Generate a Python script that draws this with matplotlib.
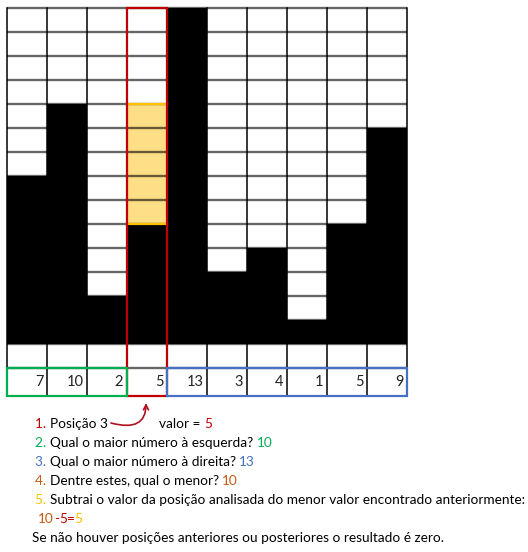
import matplotlib
matplotlib.use("Agg")
import matplotlib.pyplot as plt
from matplotlib.patches import Rectangle

# ---- data ----
values = [7, 10, 2, 5, 13, 3, 4, 1, 5, 9]          # labels in the bottom row
drawn_rows = [7, 10, 2, 5, 14, 3, 4, 1, 5, 9]      # black cells as drawn in the picture
n_rows = 14
focus = 3          # analysed position
water_top = 10     # min(max left, max right)

RED = "#C00000"
GREEN = "#00B050"
BLUE = "#4472C4"
ORANGE = "#C55A11"
YELLOW = "#FFC000"
FONT = "Lato"

W, H = 528, 552
fig = plt.figure(figsize=(W / 100, H / 100), dpi=100)
fig.patch.set_facecolor("white")

# grid axes (pixel placement)
gl, gr, gt, gb = 6.5, 406.5, 8, 396
ax = fig.add_axes([gl / W, 1 - gb / H, (gr - gl) / W, (gb - gt) / H])
ybot = -(gb - 344) / 24.0
ax.set_xlim(0, len(values))
ax.set_ylim(ybot, n_rows)
ax.axis("off")

ncol = len(values)
# grid lines
for y in range(-1, n_rows + 1):
    ax.plot([0, ncol], [y, y], color="black", alpha=0.6, lw=1.7, zorder=2.5,
            solid_capstyle="butt", clip_on=False)
ax.plot([0, ncol], [ybot, ybot], color="black", lw=1.2, zorder=2.5, clip_on=False)
for x in range(ncol + 1):
    ax.plot([x, x], [ybot, n_rows], color="black", lw=1.1, zorder=2.6, clip_on=False)

# black columns
ax.bar(range(ncol), drawn_rows, width=1.0, align="edge", color="black", zorder=3)

# water (yellow)
ax.bar([focus], [water_top - values[focus]], bottom=[values[focus]], width=1.0,
       align="edge", color="#FFDF85", zorder=2)
ax.plot([focus, focus + 1], [values[focus], values[focus]], color=YELLOW, lw=1.6, zorder=3.5)
ax.plot([focus, focus + 1], [water_top, water_top], color=YELLOW, lw=1.6, zorder=3.5)

# red column outline
ax.add_patch(Rectangle((focus, ybot), 1, n_rows - ybot, fill=False, ec=RED, lw=1.6,
                       zorder=5, clip_on=False))
# green / blue boxes in number row
ax.add_patch(Rectangle((0, ybot), focus, -1 - ybot, fill=False, ec=GREEN, lw=1.6,
                       zorder=6, clip_on=False))
ax.add_patch(Rectangle((focus + 1, ybot), ncol - focus - 1, -1 - ybot, fill=False, ec=BLUE,
                       lw=1.6, zorder=6, clip_on=False))

for i, v in enumerate(values):
    ax.text(i + 0.92, (ybot - 1) / 2, str(v), ha="right", va="center", fontsize=10.5,
            family=FONT, color="#222222", zorder=7)

# text axes in pixel coordinates
tax = fig.add_axes([0, 0, 1, 1])
tax.set_xlim(0, W)
tax.set_ylim(H, 0)
tax.axis("off")
tax.patch.set_visible(False)

renderer = fig.canvas.get_renderer()
FS = 9.8


def ink(s):
    t = tax.text(0, 0, s, fontsize=FS, family=FONT)
    w = t.get_window_extent(renderer).width
    t.remove()
    return w


def adv(s):
    if not s:
        return 0.0
    return ink("|" + s + "|") - ink("||")


def lsb_rel(c):
    return (ink("|" + c) - ink(c)) - (ink("||") - ink("|"))


def line(x, y, parts):
    prefix = ""
    for s, c in parts:
        tax.text(x + adv(prefix) + lsb_rel(s[0]), y, s, fontsize=FS, family=FONT, color=c,
                 va="baseline", ha="left")
        prefix += s


def chain(x, y, parts, gap=0.0):
    # pieces without spaces: each one starts where the previous one's box ends
    prev = tax.text(x, y, parts[0][0], fontsize=FS, family=FONT, color=parts[0][1],
                    va="baseline", ha="left")
    for s, c in parts[1:]:
        prev = tax.annotate(s, xy=(1, y), xycoords=(prev, "data"),
                            xytext=(gap, 0), textcoords="offset pixels",
                            fontsize=FS, family=FONT, color=c, va="baseline", ha="left")


lines = [
    (35, 428, [("1. ", RED), ("Posição 3", "black")]),
    (159, 428, [("valor = ", "black"), ("5", RED)]),
    (35, 447, [("2. ", GREEN), ("Qual o maior número à esquerda? ", "black"), ("10", GREEN)]),
    (35, 466, [("3. ", BLUE), ("Qual o maior número à direita? ", "black"), ("13", BLUE)]),
    (35, 485, [("4. ", ORANGE), ("Dentre estes, qual o menor? ", "black"), ("10", ORANGE)]),
    (35, 504, [("5. ", YELLOW),
               ("Subtrai o valor da posição analisada do menor valor encontrado anteriormente:", "black")]),
    (32, 542, [("Se não houver posições anteriores ou posteriores o resultado é zero.", "black")]),
]
for x, y, parts in lines:
    line(x, y, parts)

chain(38, 523, [("10", ORANGE), ("-", RED), ("5", RED), ("=", RED), ("5", YELLOW)])

tax.annotate("", xy=(146, 403), xytext=(111, 423),
             arrowprops=dict(arrowstyle="->", color="#B01020", lw=1.2,
                             connectionstyle="angle3,angleA=-15,angleB=90",
                             shrinkA=0, shrinkB=0, mutation_scale=9))

fig.savefig("out.png", dpi=100, facecolor="white")
